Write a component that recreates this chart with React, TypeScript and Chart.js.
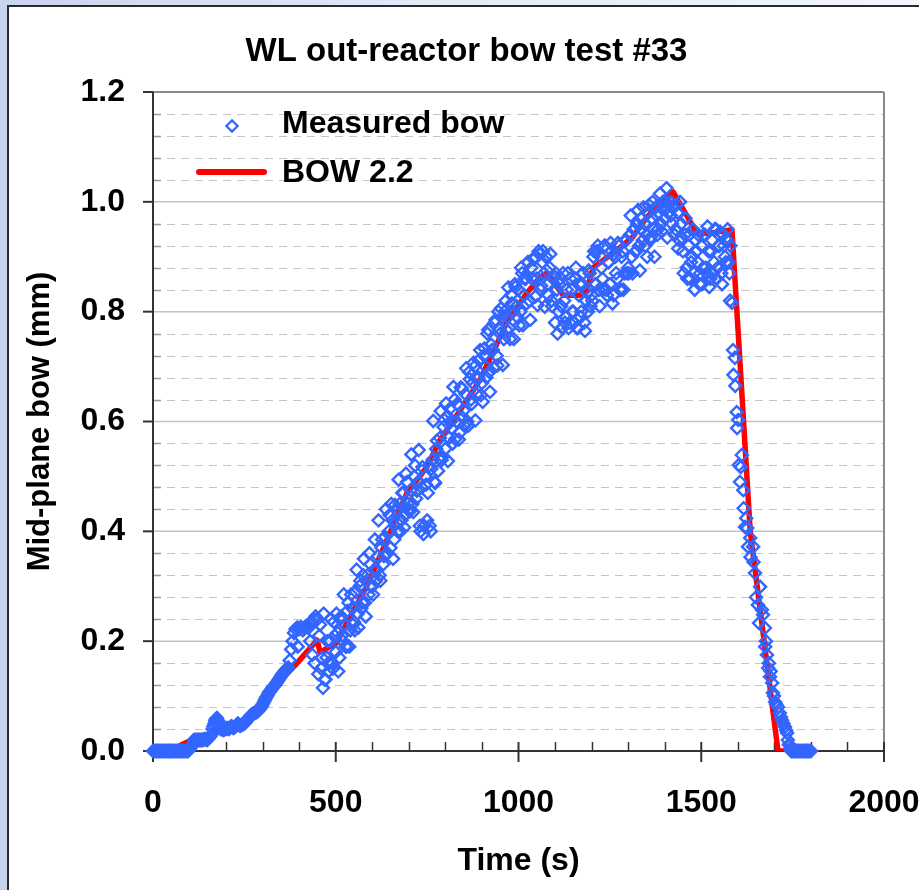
import React, { useEffect, useRef } from "react";
import { Chart, registerables } from "chart.js";

Chart.register(...registerables);

const FONT = 'Arial, "Liberation Sans", Helvetica, sans-serif';

const chartTitle = "WL out-reactor bow test #33";
const xAxisTitle = "Time (s)";
const yAxisTitle = "Mid-plane bow (mm)";
const measuredLabel = "Measured bow";
const modelLabel = "BOW 2.2";

const xMin = 0;
const xMax = 2000;
const xStep = 500;
const xMinorStep = 100;
const yMin = 0;
const yMax = 1.2;
const yStep = 0.2;
const yMinorStep = 0.04;

// BOW 2.2 model curve
const bowTime = [0, 50, 74, 100, 164, 250, 334, 394, 449, 457, 503, 539, 585, 640, 695, 749, 785, 840, 895, 968, 1023, 1059, 1077, 1100, 1122, 1168, 1187, 1204, 1269, 1313, 1351, 1423, 1488, 1524, 1584, 1634, 1674, 1710, 1800];
const bowValue = [0, 0, 0.01, 0.018, 0.033, 0.055, 0.117, 0.16, 0.202, 0.18, 0.197, 0.244, 0.3, 0.384, 0.47, 0.517, 0.566, 0.62, 0.676, 0.78, 0.834, 0.863, 0.87, 0.85, 0.83, 0.83, 0.84, 0.88, 0.912, 0.936, 0.972, 1.018, 0.943, 0.943, 0.949, 0.4, 0.19, 0, 0];

// Measured bow: [time (s), bow (mm)]
const measuredStart: [number, number][] = [
  [0, 0], [3, 0], [6, 0], [9, 0], [12, 0], [15, 0], [18, 0], [21, 0], [24, 0], [27, 0],
  [30, 0], [33, 0], [36, 0], [39, 0], [42, 0], [45, 0], [48, 0], [51, 0], [54, 0], [57, 0],
  [60, 0], [63, 0], [66, 0], [69, 0], [72, 0], [75, 0], [78, 0], [81, 0], [84, 0], [87, 0],
  [90, 0], [93, 0], [96, 0], [99, 0.002], [102, 0.005], [105, 0.008], [108, 0.012],
];
const measuredRamp: [number, number][] = [
  [112, 0.02], [115, 0.02], [118, 0.02], [121, 0.02], [124, 0.02], [127, 0.02], [130, 0.02], [133, 0.02], [136, 0.02], [139, 0.021],
  [142, 0.022], [145, 0.021], [148, 0.02], [151, 0.022], [154, 0.025], [157, 0.027], [160, 0.03], [163, 0.04], [165, 0.045], [168, 0.05],
  [170, 0.055], [172, 0.058], [175, 0.06], [178, 0.055], [180, 0.05], [183, 0.045], [185, 0.04], [188, 0.04], [190, 0.04], [193, 0.038],
  [196, 0.04], [199, 0.04], [202, 0.042], [205, 0.041], [208, 0.04], [211, 0.043], [214, 0.045], [217, 0.044], [220, 0.042], [223, 0.043],
  [226, 0.045], [229, 0.047], [232, 0.05], [235, 0.048], [238, 0.046], [241, 0.047], [244, 0.048], [247, 0.049], [250, 0.05], [253, 0.052],
  [256, 0.055], [259, 0.058], [262, 0.06], [265, 0.062], [268, 0.065], [271, 0.067], [274, 0.068], [277, 0.069], [280, 0.07], [283, 0.071],
  [286, 0.072], [289, 0.074], [292, 0.076], [295, 0.079], [298, 0.082], [301, 0.086], [304, 0.09], [307, 0.094], [310, 0.098], [313, 0.101],
  [316, 0.105], [319, 0.108], [322, 0.11], [325, 0.113], [328, 0.116], [331, 0.118], [334, 0.12], [337, 0.123], [340, 0.126], [343, 0.129],
  [346, 0.132], [349, 0.135], [352, 0.138], [355, 0.141], [358, 0.143], [361, 0.146], [364, 0.148], [367, 0.15], [370, 0.152],
];
const measuredBump: [number, number][] = [
  [374, 0.165], [378, 0.185], [382, 0.2], [386, 0.215], [390, 0.222], [395, 0.225], [396, 0.19], [400, 0.222], [405, 0.226], [410, 0.22],
  [415, 0.225], [420, 0.228], [425, 0.224], [430, 0.232], [430, 0.2], [435, 0.236], [436, 0.175], [440, 0.24], [442, 0.16], [445, 0.245],
];
const measuredScatter: [number, number][] = [
  [450, 0.24], [455, 0.21], [460, 0.15], [465, 0.115], [470, 0.13], [475, 0.17], [480, 0.145], [485, 0.2], [490, 0.16], [495, 0.235],
  [500, 0.18], [505, 0.215], [510, 0.17], [515, 0.245], [520, 0.2], [525, 0.23], [530, 0.19], [535, 0.27], [540, 0.22], [545, 0.26],
  [550, 0.235], [555, 0.29], [560, 0.25], [565, 0.3], [570, 0.26], [575, 0.32], [580, 0.27], [585, 0.31], [590, 0.285], [595, 0.34],
  [600, 0.3], [605, 0.33], [610, 0.31], [615, 0.355], [620, 0.32], [625, 0.37], [630, 0.34], [635, 0.39], [640, 0.36], [645, 0.4],
  [650, 0.37], [655, 0.42], [660, 0.385], [665, 0.44], [670, 0.4], [675, 0.45], [680, 0.42], [685, 0.47], [690, 0.43], [695, 0.49],
  [700, 0.44], [705, 0.475], [710, 0.45], [715, 0.5], [720, 0.46], [725, 0.49], [730, 0.41], [735, 0.48], [740, 0.395], [745, 0.5],
  [750, 0.42], [755, 0.52], [760, 0.4], [765, 0.53], [770, 0.49], [775, 0.55], [780, 0.51], [785, 0.57], [790, 0.53], [795, 0.59],
  [800, 0.55], [805, 0.61], [810, 0.57], [815, 0.6], [820, 0.56], [825, 0.64], [830, 0.6], [835, 0.63], [840, 0.58], [845, 0.66],
  [850, 0.62], [855, 0.65], [860, 0.6], [865, 0.69], [870, 0.64], [875, 0.67], [880, 0.7], [885, 0.65], [890, 0.68], [895, 0.73],
  [900, 0.67], [905, 0.72], [910, 0.7], [915, 0.76], [920, 0.69], [925, 0.74], [930, 0.73], [935, 0.78], [940, 0.72], [945, 0.8],
  [950, 0.76], [955, 0.79], [960, 0.75], [965, 0.82], [970, 0.79], [975, 0.77], [980, 0.83], [985, 0.8], [990, 0.85], [995, 0.81],
  [1000, 0.84], [1005, 0.8], [1010, 0.87], [1015, 0.83], [1020, 0.86], [1025, 0.89], [1030, 0.82], [1035, 0.88], [1040, 0.86], [1045, 0.9],
  [1050, 0.86], [1055, 0.91], [1060, 0.84], [1065, 0.89], [1070, 0.87], [1075, 0.9], [1080, 0.85], [1085, 0.88], [1090, 0.82], [1095, 0.86],
  [1100, 0.78], [1105, 0.84], [1110, 0.8], [1115, 0.86], [1120, 0.77], [1125, 0.82], [1130, 0.79], [1135, 0.87], [1140, 0.78], [1145, 0.84],
  [1150, 0.8], [1155, 0.86], [1160, 0.77], [1165, 0.83], [1170, 0.79], [1175, 0.85], [1180, 0.78], [1185, 0.82], [1190, 0.8], [1195, 0.87],
  [1200, 0.83], [1205, 0.9], [1210, 0.85], [1215, 0.91], [1220, 0.84], [1225, 0.9], [1230, 0.86], [1235, 0.92], [1240, 0.84], [1245, 0.89],
  [1250, 0.85], [1255, 0.91], [1260, 0.83], [1265, 0.9], [1270, 0.86], [1275, 0.92], [1280, 0.84], [1285, 0.91], [1290, 0.87], [1295, 0.93],
  [1300, 0.88], [1305, 0.94], [1310, 0.9], [1315, 0.95], [1320, 0.91], [1325, 0.96], [1330, 0.92], [1335, 0.97], [1340, 0.93], [1345, 0.96],
  [1350, 0.94], [1355, 0.98], [1360, 0.93], [1365, 0.97], [1370, 0.95], [1375, 0.99], [1380, 0.94], [1385, 0.98], [1390, 0.96], [1395, 1.0],
  [1400, 0.97], [1405, 1.025], [1410, 0.98], [1415, 1.0], [1420, 0.96], [1425, 0.99], [1430, 0.95], [1435, 0.98], [1440, 0.93], [1445, 0.96],
  [1450, 0.91], [1455, 0.94], [1460, 0.88], [1465, 0.92], [1470, 0.86], [1475, 0.9], [1480, 0.87], [1485, 0.93], [1490, 0.89], [1495, 0.85],
  [1500, 0.92], [1505, 0.88], [1510, 0.94], [1515, 0.87], [1520, 0.91], [1525, 0.86], [1530, 0.93], [1535, 0.89], [1540, 0.95], [1545, 0.88],
  [1550, 0.92], [1555, 0.87], [1560, 0.94], [1565, 0.9], [1570, 0.93], [1575, 0.89], [1580, 0.92],
];
const measuredScatterB: [number, number][] = [
  [452, 0.14], [457, 0.23], [462, 0.17], [467, 0.25], [472, 0.13], [477, 0.2], [482, 0.16], [487, 0.24], [492, 0.15], [497, 0.21],
  [502, 0.25], [507, 0.145], [512, 0.24], [517, 0.21], [522, 0.285], [527, 0.19], [532, 0.255], [537, 0.19], [542, 0.285], [547, 0.23],
  [552, 0.22], [557, 0.33], [562, 0.225], [567, 0.31], [572, 0.27], [577, 0.35], [582, 0.245], [587, 0.32], [592, 0.36], [597, 0.3],
  [602, 0.285], [607, 0.385], [612, 0.33], [617, 0.42], [622, 0.31], [627, 0.385], [632, 0.355], [637, 0.44], [642, 0.36], [647, 0.43],
  [652, 0.45], [657, 0.35], [662, 0.448], [667, 0.416], [672, 0.494], [677, 0.4], [682, 0.47], [687, 0.407], [692, 0.505], [697, 0.45],
  [702, 0.436], [707, 0.54], [712, 0.435], [717, 0.52], [722, 0.474], [727, 0.548], [732, 0.4], [737, 0.517], [742, 0.41], [747, 0.485],
  [752, 0.47], [757, 0.41], [762, 0.514], [767, 0.601], [772, 0.488], [777, 0.565], [782, 0.532], [787, 0.619], [792, 0.536], [797, 0.603],
  [802, 0.633], [807, 0.528], [812, 0.623], [817, 0.588], [822, 0.663], [827, 0.568], [832, 0.632], [837, 0.567], [842, 0.662], [847, 0.607],
  [852, 0.592], [857, 0.697], [862, 0.592], [867, 0.677], [872, 0.632], [877, 0.707], [882, 0.602], [887, 0.677], [892, 0.712], [897, 0.648],
  [902, 0.636], [907, 0.733], [912, 0.68], [917, 0.767], [922, 0.654], [927, 0.73], [932, 0.698], [937, 0.785], [942, 0.702], [947, 0.769],
  [952, 0.806], [957, 0.703], [962, 0.8], [967, 0.767], [972, 0.844], [977, 0.75], [982, 0.815], [987, 0.75], [992, 0.845], [997, 0.79],
  [1002, 0.775], [1007, 0.88], [1012, 0.775], [1017, 0.86], [1022, 0.815], [1027, 0.89], [1032, 0.785], [1037, 0.86], [1042, 0.895], [1047, 0.828],
  [1052, 0.812], [1057, 0.905], [1062, 0.847], [1067, 0.91], [1072, 0.809], [1077, 0.875], [1082, 0.83], [1087, 0.905], [1092, 0.81], [1097, 0.865],
  [1102, 0.87], [1107, 0.76], [1112, 0.85], [1117, 0.81], [1122, 0.87], [1127, 0.78], [1132, 0.84], [1137, 0.77], [1142, 0.86], [1147, 0.8],
  [1152, 0.78], [1157, 0.88], [1162, 0.77], [1167, 0.85], [1172, 0.8], [1177, 0.87], [1182, 0.765], [1187, 0.835], [1192, 0.875], [1197, 0.81],
  [1202, 0.82], [1207, 0.91], [1212, 0.85], [1217, 0.92], [1222, 0.81], [1227, 0.88], [1232, 0.84], [1237, 0.92], [1242, 0.83], [1247, 0.89],
  [1252, 0.925], [1257, 0.815], [1262, 0.905], [1267, 0.87], [1272, 0.925], [1277, 0.84], [1282, 0.9], [1287, 0.84], [1292, 0.93], [1297, 0.87],
  [1302, 0.87], [1307, 0.975], [1312, 0.87], [1317, 0.95], [1322, 0.91], [1327, 0.985], [1332, 0.875], [1337, 0.95], [1342, 0.99], [1347, 0.92],
  [1352, 0.9], [1357, 0.994], [1362, 0.936], [1367, 1.0], [1372, 0.9], [1377, 0.976], [1382, 0.95], [1387, 1.015], [1392, 0.946], [1397, 0.99],
  [1402, 1.0], [1407, 0.935], [1412, 0.995], [1417, 0.975], [1422, 0.99], [1427, 0.94], [1432, 0.995], [1437, 0.915], [1442, 1.0], [1447, 0.935],
  [1452, 0.87], [1457, 0.97], [1462, 0.86], [1467, 0.94], [1472, 0.89], [1477, 0.95], [1482, 0.84], [1487, 0.91], [1492, 0.94], [1497, 0.87],
  [1502, 0.85], [1507, 0.94], [1512, 0.88], [1517, 0.955], [1522, 0.845], [1527, 0.91], [1532, 0.87], [1537, 0.95], [1542, 0.86], [1547, 0.92],
  [1552, 0.945], [1557, 0.85], [1562, 0.92], [1567, 0.89], [1572, 0.95], [1577, 0.87],
];
const measuredFall: [number, number][] = [
  [1579, 0.82], [1584, 0.816], [1587, 0.73], [1592, 0.716], [1588, 0.685], [1593, 0.665], [1597, 0.617], [1601, 0.603], [1598, 0.588], [1611, 0.539],
  [1603, 0.521], [1608, 0.517], [1606, 0.49], [1615, 0.475], [1616, 0.442], [1623, 0.424], [1620, 0.408], [1626, 0.406], [1634, 0.388], [1628, 0.372],
  [1642, 0.372], [1635, 0.353], [1643, 0.344], [1647, 0.324], [1661, 0.299], [1650, 0.28], [1655, 0.266], [1666, 0.257], [1669, 0.248], [1658, 0.233],
  [1674, 0.224], [1677, 0.2], [1675, 0.19], [1680, 0.175], [1685, 0.16], [1683, 0.151], [1690, 0.145], [1688, 0.135], [1694, 0.124], [1696, 0.106],
  [1699, 0.1], [1702, 0.089], [1705, 0.085], [1710, 0.08], [1715, 0.069], [1718, 0.062], [1721, 0.056], [1725, 0.05], [1729, 0.044], [1732, 0.038],
  [1735, 0.033], [1737, 0.02],
];
const measuredEnd: [number, number][] = [
  [1740, 0.012], [1742, 0.01], [1744, 0.005], [1746, 0], [1749, 0], [1752, 0], [1755, 0], [1758, 0], [1761, 0], [1764, 0],
  [1767, 0], [1770, 0], [1773, 0], [1776, 0], [1779, 0], [1782, 0], [1785, 0], [1788, 0], [1791, 0], [1794, 0],
  [1797, 0], [1800, 0],
];

const measuredPoints = [
  ...measuredStart,
  ...measuredRamp,
  ...measuredBump,
  ...measuredScatter,
  ...measuredScatterB,
  ...measuredFall,
  ...measuredEnd,
];

const BLUE = "#3366ff";
const RED = "#ff0000";
const POINT_RADIUS = 6;
const POINT_BORDER = 2.4;

const framePlugin = {
  id: "frame",
  beforeDatasetsDraw(chart: any) {
    const { ctx, chartArea: a, scales } = chart;
    const xs = scales.x;
    const ys = scales.y;
    const seg = (x1: number, y1: number, x2: number, y2: number) => {
      ctx.beginPath();
      ctx.moveTo(x1, y1);
      ctx.lineTo(x2, y2);
      ctx.stroke();
    };
    ctx.save();
    const nMinorY = Math.round((yMax - yMin) / yMinorStep);
    const perMajorY = Math.round(yStep / yMinorStep);
    // minor dashed grid
    ctx.lineWidth = 1;
    ctx.strokeStyle = "#c6c6c6";
    ctx.setLineDash([8, 6]);
    for (let k = 1; k < nMinorY; k++) {
      if (k % perMajorY === 0) continue;
      const py = Math.round(ys.getPixelForValue(yMin + k * yMinorStep)) + 0.5;
      seg(a.left, py, a.right, py);
    }
    ctx.setLineDash([]);
    // major solid grid
    ctx.lineWidth = 1.5;
    ctx.strokeStyle = "#c2c2c2";
    for (let k = perMajorY; k < nMinorY; k += perMajorY) {
      const py = ys.getPixelForValue(yMin + k * yMinorStep);
      seg(a.left, py, a.right, py);
    }
    // top and right frame
    ctx.lineWidth = 2;
    ctx.strokeStyle = "#8a8a8a";
    seg(a.left, a.top, a.right, a.top);
    seg(a.right, a.top, a.right, a.bottom + 1);
    // y minor ticks (inside)
    ctx.lineWidth = 1.5;
    ctx.strokeStyle = "#9a9a9a";
    for (let k = 1; k < nMinorY; k++) {
      if (k % perMajorY === 0) continue;
      const py = Math.round(ys.getPixelForValue(yMin + k * yMinorStep)) + 0.5;
      seg(a.left, py, a.left + 8, py);
    }
    // x minor ticks (inside)
    ctx.strokeStyle = "#333333";
    for (let v = xMin + xMinorStep; v < xMax; v += xMinorStep) {
      if (v % xStep === 0) continue;
      const px = Math.round(xs.getPixelForValue(v)) + 0.5;
      seg(px, a.bottom - 9, px, a.bottom);
    }
    // axes
    ctx.lineWidth = 2;
    ctx.strokeStyle = "#333333";
    seg(a.left, a.top, a.left, a.bottom + 1);
    seg(a.left - 1, a.bottom, a.right + 1, a.bottom);
    // y major ticks (outside)
    for (let v = yMin; v <= yMax + 1e-9; v += yStep) {
      const py = ys.getPixelForValue(v);
      seg(a.left - 10, py, a.left, py);
    }
    // x major ticks (crossing)
    for (let v = xMin; v <= xMax; v += xStep) {
      const px = xs.getPixelForValue(v);
      seg(px, a.bottom - 9, px, a.bottom + 11);
    }
    ctx.restore();
  },
  afterDraw(chart: any) {
    const { ctx, chartArea: a } = chart;
    ctx.save();
    // measured marker
    const mx = a.left + 79;
    const my = a.top + 34;
    const r = 5.6;
    ctx.strokeStyle = BLUE;
    ctx.lineWidth = 2.2;
    ctx.beginPath();
    ctx.moveTo(mx - r, my);
    ctx.lineTo(mx, my - r);
    ctx.lineTo(mx + r, my);
    ctx.lineTo(mx, my + r);
    ctx.closePath();
    ctx.stroke();
    // model line
    const ly = a.top + 80;
    ctx.strokeStyle = RED;
    ctx.lineWidth = 6;
    ctx.lineCap = "round";
    ctx.beginPath();
    ctx.moveTo(a.left + 46, ly);
    ctx.lineTo(a.left + 111, ly);
    ctx.stroke();
    // texts
    ctx.fillStyle = "#000";
    ctx.font = `bold 32px ${FONT}`;
    ctx.textAlign = "left";
    ctx.textBaseline = "middle";
    ctx.fillText(measuredLabel, a.left + 129, a.top + 32);
    ctx.fillText(modelLabel, a.left + 129, a.top + 81);
    ctx.restore();
  },
};

export default function App() {
  const canvasRef = useRef<HTMLCanvasElement | null>(null);

  useEffect(() => {
    const canvas = canvasRef.current;
    if (!canvas) return;
    const chart = new Chart(canvas, {
      type: "scatter",
      data: {
        datasets: [
          {
            type: "scatter",
            label: measuredLabel,
            data: measuredPoints.map(([t, v]) => ({ x: t, y: v })),
            pointStyle: "rectRot",
            pointRadius: POINT_RADIUS,
            pointBorderWidth: POINT_BORDER,
            borderWidth: POINT_BORDER,
            borderColor: BLUE,
            backgroundColor: "rgba(0,0,0,0)",
            clip: false,
            order: 0,
          } as any,
          {
            type: "line",
            label: modelLabel,
            data: bowTime.map((t, i) => ({ x: t, y: bowValue[i] })),
            borderColor: RED,
            backgroundColor: RED,
            borderWidth: 5.5,
            pointRadius: 0,
            fill: false,
            tension: 0,
            borderJoinStyle: "round",
            order: 1,
          } as any,
        ],
      },
      options: {
        responsive: false,
        animation: false,
        devicePixelRatio: 1,
        events: [],
        layout: { padding: { left: 49, right: 35, top: 0, bottom: 0 } },
        plugins: {
          legend: { display: false },
          tooltip: { enabled: false },
          title: {
            display: true,
            text: chartTitle,
            color: "#000",
            font: { family: FONT, size: 33, weight: "bold" },
            padding: { top: 32, bottom: 20.4 },
          },
        },
        scales: {
          x: {
            type: "linear",
            min: xMin,
            max: xMax,
            grid: { display: false, drawTicks: false },
            border: { display: false },
            ticks: {
              stepSize: xStep,
              color: "#000",
              padding: 33,
              maxRotation: 0,
              font: { family: FONT, size: 32, weight: "bold" },
              callback: (v: any) => String(v),
            },
            title: {
              display: true,
              text: xAxisTitle,
              color: "#000",
              font: { family: FONT, size: 32, weight: "bold" },
              padding: { top: 0, bottom: 9.3 },
            },
            afterFit: (s: any) => {
              s.height = 139;
              s.paddingLeft = 0;
              s.paddingRight = 0;
            },
          },
          y: {
            type: "linear",
            min: yMin,
            max: yMax,
            grid: { display: false, drawTicks: false },
            border: { display: false },
            ticks: {
              stepSize: yStep,
              color: "#000",
              padding: 28,
              font: { family: FONT, size: 32, weight: "bold" },
              callback: (v: any) => Number(v).toFixed(1),
            },
            title: {
              display: true,
              text: yAxisTitle,
              color: "#000",
              font: { family: FONT, size: 31, weight: "bold" },
              padding: { top: -27.6, bottom: 0 },
            },
            afterFit: (s: any) => {
              s.width = 104;
              s.paddingTop = 0;
              s.paddingBottom = 0;
            },
          },
        },
      } as any,
      plugins: [framePlugin],
    });
    return () => chart.destroy();
  }, []);

  return (
    <div
      style={{
        position: "fixed",
        left: 0,
        top: 0,
        width: 919,
        height: 890,
        overflow: "hidden",
        background: "linear-gradient(90deg, #c8d4ee 0%, #e2e9f7 45%, #f3f6fb 100%)",
      }}
    >
      <div
        style={{
          position: "absolute",
          left: 7,
          top: 5,
          width: 940,
          height: 920,
          background: "#ffffff",
          border: "2px solid #2a2a2a",
          boxSizing: "border-box",
        }}
      />
      <canvas
        ref={canvasRef}
        width={919}
        height={890}
        style={{ position: "absolute", left: 0, top: 0, width: 919, height: 890 }}
      />
    </div>
  );
}
